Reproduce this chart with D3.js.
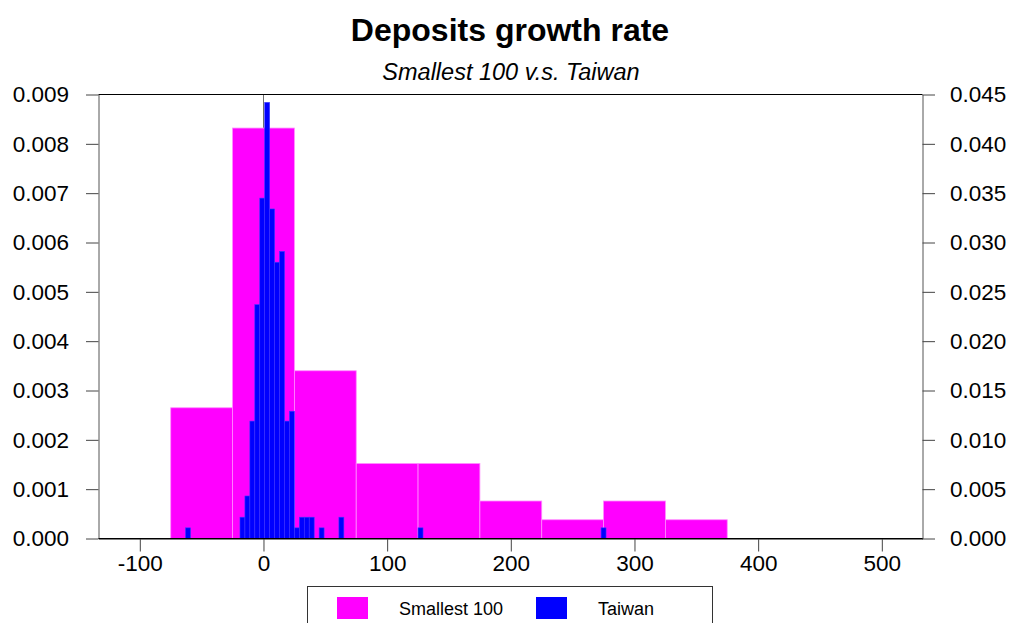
<!DOCTYPE html>
<html>
<head>
<meta charset="utf-8">
<script src="https://cdn.jsdelivr.net/npm/d3@7"></script>
<style>
  html, body { margin: 0; padding: 0; background: #fff; }
  svg { display: block; }
  text { font-family: "Liberation Sans", Arial, Helvetica, sans-serif; fill: #000; }
</style>
</head>
<body>
<svg id="chart" width="1010" height="623"></svg>
<script>
// Smallest 100: histogram with bins of width 50 (left axis, density)
const smallBinCenters = [-50, 0, 50, 100, 150, 200, 250, 300, 350];
const smallDensity = [0.00265, 0.00832, 0.0034, 0.00152, 0.00152, 0.00076, 0.00038, 0.00076, 0.00038];
const smallBinWidth = 50;

// Taiwan: histogram with bins of width 4 (right axis, density)
const taiwanBinCenters = [-61, -17, -13, -9, -5, -1, 3, 7, 11, 15, 19, 23, 27, 31, 35, 39, 47, 63, 127, 275];
const taiwanDensity = [0.00108, 0.00216, 0.00431, 0.0119, 0.0237, 0.0345, 0.0442, 0.0334, 0.0280, 0.0291,
                       0.0119, 0.0129, 0.00108, 0.00216, 0.00216, 0.00216, 0.00108, 0.00216, 0.00108, 0.00108];
const taiwanBinWidth = 4;

// Axis ticks
const xTicks = [-100, 0, 100, 200, 300, 400, 500];
const leftTicks = [0, 0.001, 0.002, 0.003, 0.004, 0.005, 0.006, 0.007, 0.008, 0.009];
const rightTicks = [0, 0.005, 0.01, 0.015, 0.02, 0.025, 0.03, 0.035, 0.04, 0.045];

const titleText = "Deposits growth rate";
const subtitleText = "Smallest 100 v.s. Taiwan";
const seriesNames = ["Smallest 100", "Taiwan"];
const seriesColors = ["#ff00ff", "#0000ff"];

const svg = d3.select("#chart");
const plotLeft = 98.5, plotRight = 922.5, plotTop = 94.5, plotBottom = 538.5;

const x = d3.scaleLinear().domain([-133.4, 532.9]).range([plotLeft, plotRight]);
const yL = d3.scaleLinear().domain([0, 0.009]).range([plotBottom, plotTop]);
const yR = d3.scaleLinear().domain([0, 0.045]).range([plotBottom, plotTop]);

// Title and subtitle
svg.append("text").attr("x", 510).attr("y", 41)
  .attr("text-anchor", "middle").style("font-size", "32px").style("font-weight", "bold")
  .text(titleText);
svg.append("text").attr("x", 511).attr("y", 80)
  .attr("text-anchor", "middle").style("font-size", "23.5px").style("font-style", "italic")
  .text(subtitleText);

// Zero reference line
svg.append("line")
  .attr("x1", Math.round(x(0)) + 0.5).attr("x2", Math.round(x(0)) + 0.5)
  .attr("y1", plotTop).attr("y2", plotBottom)
  .attr("stroke", "#6e6e6e").attr("stroke-width", 1);

// Smallest 100 bars
svg.append("g").selectAll("rect")
  .data(smallBinCenters.map((c, i) => ({ c, v: smallDensity[i] })))
  .join("rect")
  .attr("x", d => x(d.c - smallBinWidth / 2))
  .attr("width", d => x(d.c + smallBinWidth / 2) - x(d.c - smallBinWidth / 2))
  .attr("y", d => yL(d.v))
  .attr("height", d => yL(0) - yL(d.v))
  .attr("fill", seriesColors[0])
  .attr("stroke", "#ff8cff").attr("stroke-width", 0.8);

// Taiwan bars
svg.append("g").selectAll("rect")
  .data(taiwanBinCenters.map((c, i) => ({ c, v: taiwanDensity[i] })))
  .join("rect")
  .attr("x", d => x(d.c - taiwanBinWidth / 2))
  .attr("width", d => x(d.c + taiwanBinWidth / 2) - x(d.c - taiwanBinWidth / 2))
  .attr("y", d => yR(d.v))
  .attr("height", d => yR(0) - yR(d.v))
  .attr("fill", seriesColors[1])
  .attr("stroke", "#3a3aff").attr("stroke-width", 0.6);

// Axes
const fmt = d3.format(".3f");
const axisFont = "22.5px";

const gL = svg.append("g").attr("transform", `translate(${plotLeft},0)`)
  .call(d3.axisLeft(yL).tickValues(leftTicks).tickFormat(fmt).tickSize(12.5).tickSizeOuter(0).tickPadding(17));
const gR = svg.append("g").attr("transform", `translate(${plotRight},0)`)
  .call(d3.axisRight(yR).tickValues(rightTicks).tickFormat(fmt).tickSize(12.5).tickSizeOuter(0).tickPadding(15));
const gB = svg.append("g").attr("transform", `translate(0,${plotBottom})`)
  .call(d3.axisBottom(x).tickValues(xTicks).tickFormat(d => String(d)).tickSize(13).tickSizeOuter(0).tickPadding(4));

[gL, gR, gB].forEach(g => {
  g.select(".domain").attr("stroke", "#555");
  g.selectAll(".tick line").attr("stroke", "#444");
  g.selectAll("text").style("font-size", axisFont).attr("fill", "#000");
});
gB.select(".domain").attr("stroke", "#000");

// Top and bottom frame lines
svg.append("line").attr("x1", plotLeft).attr("x2", plotRight).attr("y1", plotTop).attr("y2", plotTop)
  .attr("stroke", "#000").attr("stroke-width", 1);
svg.append("line").attr("x1", plotLeft).attr("x2", plotRight).attr("y1", plotBottom).attr("y2", plotBottom)
  .attr("stroke", "#000").attr("stroke-width", 1);

// Legend
const legend = svg.append("g");
legend.append("rect").attr("x", 307.5).attr("y", 586.5).attr("width", 405).attr("height", 60)
  .attr("fill", "#fff").attr("stroke", "#333").attr("stroke-width", 1);
const legendItems = [
  { name: seriesNames[0], color: seriesColors[0], sx: 337, tx: 399 },
  { name: seriesNames[1], color: seriesColors[1], sx: 536, tx: 598 }
];
legendItems.forEach(it => {
  legend.append("rect").attr("x", it.sx).attr("y", 597).attr("width", 31).attr("height", 22)
    .attr("fill", it.color);
  legend.append("text").attr("x", it.tx).attr("y", 614.5).style("font-size", "18px").text(it.name);
});
</script>
</body>
</html>
